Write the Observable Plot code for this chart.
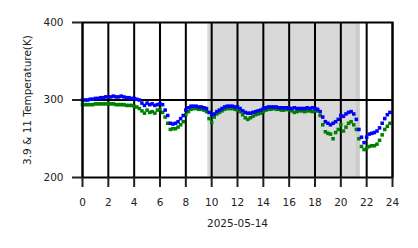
<!DOCTYPE html>
<html>
<head>
<meta charset="utf-8">
<script src="https://cdn.jsdelivr.net/npm/d3@7"></script>
<script src="https://cdn.jsdelivr.net/npm/@observablehq/plot@0.6"></script>
<style>
  html, body { margin: 0; padding: 0; background: #fff; }
  #chart svg { font-family: "DejaVu Sans", sans-serif; }
</style>
</head>
<body>
<div id="chart"></div>
<script>
const hours = [0.0,0.2,0.4,0.6,0.8,1.0,1.2,1.4,1.6,1.8,2.0,2.2,2.4,2.6,2.8,3.0,3.2,3.4,3.6,3.8,
  4.0,4.2,4.4,4.6,4.8,5.0,5.2,5.4,5.6,5.8,6.0,6.2,6.4,6.6,6.8,7.0,7.2,7.4,7.6,7.8,
  8.0,8.2,8.4,8.6,8.8,9.0,9.2,9.4,9.6,9.8,10.0,10.2,10.4,10.6,10.8,11.0,11.2,11.4,11.6,11.8,
  12.0,12.2,12.4,12.6,12.8,13.0,13.2,13.4,13.6,13.8,14.0,14.2,14.4,14.6,14.8,15.0,15.2,15.4,15.6,15.8,
  16.0,16.2,16.4,16.6,16.8,17.0,17.2,17.4,17.6,17.8,18.0,18.2,18.4,18.6,18.8,19.0,19.2,19.4,19.6,19.8,
  20.0,20.2,20.4,20.6,20.8,21.0,21.2,21.4,21.6,21.8,22.0,22.2,22.4,22.6,22.8,23.0,23.2,23.4,23.6,23.8];

const temp39 = [300,300,300,301,301,302,302,303,303,304,304,304,305,304,304,305,304,303,303,302,
  302,301,300,296,293,296,294,295,293,294,295,294,287,280,270,269,270,272,276,280,
  287,290,292,292,292,291,291,290,289,284,281,282,285,287,289,291,292,292,292,291,
  291,289,286,284,283,283,284,285,286,287,289,290,291,291,291,291,290,290,290,290,
  289,289,290,289,289,289,289,290,289,290,289,288,285,278,272,270,268,270,272,275,
  280,279,282,284,285,282,275,262,252,245,252,256,257,258,260,264,270,276,281,284];

const temp11 = [294,294,294,294,294,295,295,295,295,295,295,295,295,294,294,294,294,293,293,293,
  292,291,289,286,283,287,284,285,283,287,288,284,278,270,262,263,263,265,268,272,
  281,285,288,289,289,288,288,287,285,276,271,278,282,284,286,288,289,289,289,288,
  287,285,281,277,275,277,279,281,282,283,285,287,288,288,289,288,288,287,287,288,
  287,286,284,285,286,286,285,286,286,285,286,286,280,268,259,257,256,250,258,262,
  268,260,265,270,272,268,262,250,240,236,238,240,241,241,243,248,255,262,266,270];

const shadeStart = [9.7, 21.2];
const shadeEnd = [21.5, 21.5];
const shadeFill = ["#d9d9d9", "#cbcbcb"];

const xTicks = [0,2,4,6,8,10,12,14,16,18,20,22,24];
const yTicks = [200,300,400];
const yGrid = [300];

const rows39 = hours.map((h, i) => ({h, t: temp39[i]}));
const rows11 = hours.map((h, i) => ({h, t: temp11[i]}));
const shades = shadeStart.map((s, i) => ({s, e: shadeEnd[i], f: shadeFill[i]}));

const chart = Plot.plot({
  width: 418,
  height: 248,
  marginLeft: 82,
  marginRight: 26,
  marginTop: 22,
  marginBottom: 71,
  style: {fontFamily: "DejaVu Sans, sans-serif", fontSize: "10.5px", color: "#222", background: "#fff"},
  x: {domain: [0, 24]},
  y: {domain: [200, 400]},
  marks: [
    Plot.rect(shades, {x1: "s", x2: "e", y1: 200, y2: 400, fill: "f"}),
    Plot.ruleX(xTicks, {stroke: "black", strokeWidth: 2}),
    Plot.ruleY(yGrid, {stroke: "black", strokeWidth: 2}),
    Plot.dot(rows11, {x: "h", y: "t", symbol: "square", r: 2, fill: "#008000", stroke: null}),
    Plot.dot(rows39, {x: "h", y: "t", symbol: "square", r: 2, fill: "#0000ff", stroke: null}),
    Plot.frame({stroke: "black", strokeWidth: 2}),
    Plot.axisX({ticks: xTicks, tickSize: 10, tickPadding: 11, strokeWidth: 2, fontSize: 10.5,
      label: "2025-05-14", labelAnchor: "center", labelOffset: 49, labelArrow: "none"}),
    Plot.axisY({ticks: yTicks, tickSize: 10, tickPadding: 9, strokeWidth: 2, fontSize: 10.5,
      label: "3.9 & 11 Temperature(K)", labelAnchor: "center", labelOffset: 59, labelArrow: "none"})
  ]
});
document.getElementById("chart").appendChild(chart);
</script>
</body>
</html>
